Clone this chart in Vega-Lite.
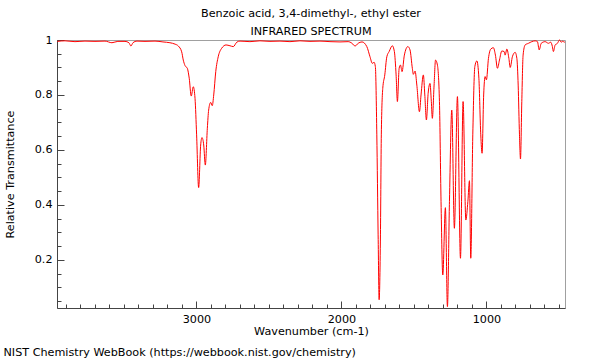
{
  "$schema": "https://vega.github.io/schema/vega-lite/v6.json",
  "width": 508,
  "height": 268,
  "autosize": {"type": "none"},
  "padding": {"left": 57, "top": 40, "right": 35, "bottom": 52},
  "background": "white",
  "title": {
    "text": ["Benzoic acid, 3,4-dimethyl-, ethyl ester", "INFRARED SPECTRUM"],
    "font": "DejaVu Sans", "fontSize": 11.2, "fontWeight": "normal", "color": "#000000",
    "anchor": "middle", "frame": "group", "offset": -3, "lineHeight": 18
  },
  "config": {
    "view": {"stroke": "#a0a0a0", "strokeWidth": 1},
    "axis": {"grid": false, "labelFont": "DejaVu Sans", "titleFont": "DejaVu Sans", "labelFontSize": 11.2, "titleFontSize": 11.2, "titleFontWeight": "normal", "labelColor": "#000000", "titleColor": "#000000", "domainColor": "#444444", "tickColor": "#444444"}
  },
  "data": {"values": [
    {"w":3960,"t":0.995},{"w":3907,"t":0.997},{"w":3838,"t":0.994},{"w":3769,"t":0.996},{"w":3700,"t":0.995},
    {"w":3631,"t":0.996},{"w":3583,"t":0.99},{"w":3542,"t":0.995},{"w":3493,"t":0.995},{"w":3466,"t":0.99},
    {"w":3452,"t":0.978},{"w":3438,"t":0.99},{"w":3410,"t":0.996},{"w":3355,"t":0.995},{"w":3286,"t":0.996},
    {"w":3231,"t":0.993},{"w":3183,"t":0.99},{"w":3148,"t":0.985},{"w":3125,"t":0.978},{"w":3102,"t":0.957},
    {"w":3091,"t":0.927},{"w":3079,"t":0.907},{"w":3063,"t":0.897},{"w":3050,"t":0.861},{"w":3036,"t":0.796},
    {"w":3022,"t":0.83},{"w":3010,"t":0.788},{"w":2999,"t":0.655},{"w":2985,"t":0.463},{"w":2971,"t":0.618},
    {"w":2962,"t":0.645},{"w":2950,"t":0.618},{"w":2939,"t":0.545},{"w":2925,"t":0.679},{"w":2916,"t":0.745},
    {"w":2902,"t":0.773},{"w":2891,"t":0.761},{"w":2881,"t":0.8},{"w":2867,"t":0.885},{"w":2850,"t":0.939},
    {"w":2826,"t":0.97},{"w":2796,"t":0.982},{"w":2769,"t":0.979},{"w":2746,"t":0.976},{"w":2722,"t":0.992},
    {"w":2700,"t":0.996},{"w":2631,"t":0.994},{"w":2562,"t":0.997},{"w":2493,"t":0.995},{"w":2424,"t":0.996},
    {"w":2355,"t":0.994},{"w":2286,"t":0.997},{"w":2217,"t":0.995},{"w":2148,"t":0.996},{"w":2079,"t":0.994},
    {"w":2010,"t":0.993},{"w":1954,"t":0.994},{"w":1927,"t":0.988},{"w":1906,"t":0.978},{"w":1885,"t":0.988},
    {"w":1858,"t":0.993},{"w":1825,"t":0.976},{"w":1803,"t":0.939},{"w":1787,"t":0.915},{"w":1775,"t":0.919},
    {"w":1766,"t":0.903},{"w":1756,"t":0.655},{"w":1747,"t":0.291},{"w":1740,"t":0.055},{"w":1731,"t":0.291},
    {"w":1725,"t":0.655},{"w":1715,"t":0.824},{"w":1701,"t":0.873},{"w":1687,"t":0.939},{"w":1671,"t":0.958},
    {"w":1649,"t":0.979},{"w":1635,"t":0.958},{"w":1623,"t":0.873},{"w":1614,"t":0.776},{"w":1602,"t":0.897},
    {"w":1593,"t":0.909},{"w":1582,"t":0.885},{"w":1566,"t":0.945},{"w":1542,"t":0.976},{"w":1527,"t":0.964},
    {"w":1511,"t":0.897},{"w":1504,"t":0.875},{"w":1492,"t":0.887},{"w":1480,"t":0.836},{"w":1462,"t":0.739},
    {"w":1451,"t":0.8},{"w":1435,"t":0.873},{"w":1425,"t":0.8},{"w":1414,"t":0.709},{"w":1402,"t":0.806},
    {"w":1389,"t":0.842},{"w":1380,"t":0.776},{"w":1373,"t":0.715},{"w":1361,"t":0.836},{"w":1351,"t":0.927},
    {"w":1338,"t":0.909},{"w":1324,"t":0.776},{"w":1313,"t":0.412},{"w":1301,"t":0.145},{"w":1283,"t":0.39},
    {"w":1269,"t":0.03},{"w":1255,"t":0.412},{"w":1239,"t":0.745},{"w":1221,"t":0.315},{"w":1200,"t":0.794},
    {"w":1179,"t":0.206},{"w":1161,"t":0.776},{"w":1142,"t":0.345},{"w":1128,"t":0.412},{"w":1117,"t":0.488},
    {"w":1108,"t":0.206},{"w":1094,"t":0.655},{"w":1080,"t":0.903},{"w":1066,"t":0.924},{"w":1052,"t":0.861},
    {"w":1039,"t":0.655},{"w":1030,"t":0.588},{"w":1019,"t":0.8},{"w":1009,"t":0.867},{"w":1000,"t":0.855},
    {"w":986,"t":0.933},{"w":970,"t":0.967},{"w":952,"t":0.972},{"w":938,"t":0.945},{"w":924,"t":0.897},
    {"w":910,"t":0.927},{"w":894,"t":0.96},{"w":878,"t":0.958},{"w":871,"t":0.945},{"w":859,"t":0.967},
    {"w":845,"t":0.933},{"w":836,"t":0.9},{"w":821,"t":0.939},{"w":802,"t":0.955},{"w":790,"t":0.933},
    {"w":781,"t":0.836},{"w":772,"t":0.655},{"w":765,"t":0.567},{"w":756,"t":0.776},{"w":747,"t":0.945},
    {"w":733,"t":0.982},{"w":710,"t":0.988},{"w":687,"t":0.994},{"w":664,"t":0.997},{"w":648,"t":0.994},
    {"w":636,"t":0.964},{"w":622,"t":0.988},{"w":595,"t":0.994},{"w":572,"t":0.988},{"w":556,"t":0.992},
    {"w":545,"t":0.976},{"w":538,"t":0.958},{"w":526,"t":0.982},{"w":510,"t":0.988},{"w":496,"t":1.0},
    {"w":484,"t":0.992},{"w":473,"t":0.996},{"w":464,"t":0.992},{"w":458,"t":0.994}
  ]},
  "layer": [
    {
      "mark": {"type": "line", "strokeOpacity": 0},
      "encoding": {
        "x": {"field": "w", "type": "quantitative",
          "scale": {"domain": [458, 3962], "reverse": true, "nice": false, "zero": false},
          "axis": {"orient": "bottom", "values": [500,600,700,800,900,1000,1100,1200,1300,1400,1500,1600,1700,1800,1900,2000,2100,2200,2300,2400,2500,2600,2700,2800,2900,3000,3100,3200,3300,3400,3500,3600,3700,3800,3900],
            "tickSize": -4, "labels": false, "domain": true,
            "title": "Wavenumber (cm-1)", "titleX": 254, "titleY": 23, "titleAlign": "center", "titleBaseline": "middle"}},
        "y": {"field": "t", "type": "quantitative",
          "scale": {"domain": [0.025, 1], "nice": false, "zero": false},
          "axis": {"orient": "left", "values": [0.05,0.1,0.15,0.2,0.25,0.3,0.35,0.4,0.45,0.5,0.55,0.6,0.65,0.7,0.75,0.8,0.85,0.9,0.95,1],
            "tickSize": -4, "labels": false, "domain": true, "title": null}}
      }
    },
    {
      "mark": {"type": "line", "color": "#ff0000", "strokeWidth": 1, "interpolate": "monotone"},
      "encoding": {
        "x": {"field": "w", "type": "quantitative",
          "scale": {"domain": [458, 3962], "reverse": true, "nice": false, "zero": false},
          "axis": {"orient": "bottom", "values": [1000, 2000, 3000], "format": "d",
            "tickSize": -7, "labels": true, "labelPadding": 12, "domain": false,
            "title": "NIST Chemistry WebBook (https://webbook.nist.gov/chemistry)",
            "titleX": -54, "titleY": 44, "titleAlign": "left", "titleBaseline": "middle"}},
        "y": {"field": "t", "type": "quantitative",
          "scale": {"domain": [0.025, 1], "nice": false, "zero": false},
          "axis": {"orient": "left", "values": [0.2, 0.4, 0.6, 0.8, 1], "format": "~g",
            "tickSize": -7, "labels": true, "labelPadding": 12, "domain": false,
            "title": "Relative Transmittance", "titleX": -47, "titleY": 134, "titleAngle": -90, "titleAlign": "center", "titleBaseline": "middle"}}
      }
    }
  ],
  "resolve": {"axis": {"x": "independent", "y": "independent"}}
}
